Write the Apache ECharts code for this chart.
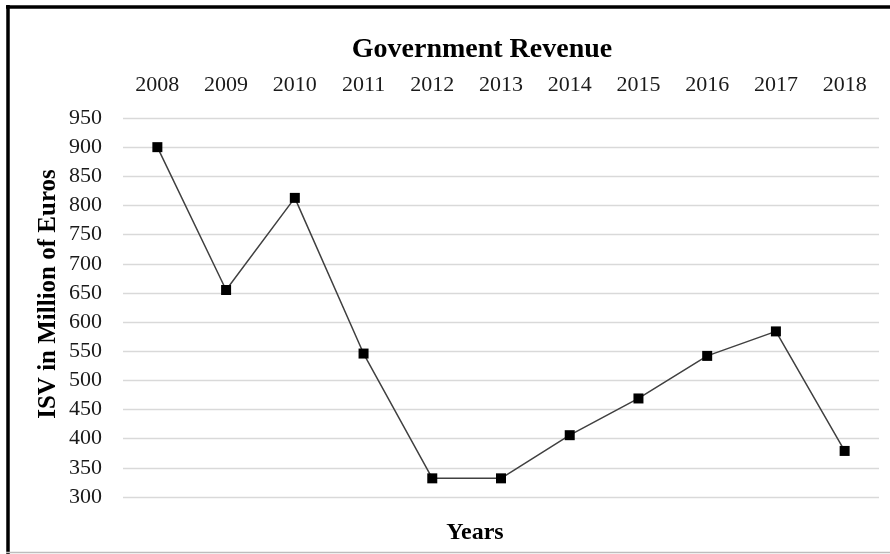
<!DOCTYPE html>
<html>
<head>
<meta charset="utf-8">
<script src="https://cdn.jsdelivr.net/npm/echarts@6/dist/echarts.min.js"></script>
<style>
  html, body { margin: 0; padding: 0; background: #fff; }
  #chart { width: 890px; height: 554px; }
</style>
</head>
<body>
<div id="chart"></div>
<script>
// Government revenue (ISV), million euros per year
const years = ['2008', '2009', '2010', '2011', '2012', '2013', '2014', '2015', '2016', '2017', '2018'];
const revenue = [900, 655, 813, 546, 332, 332, 406, 469, 542, 584, 379];
const yTicks = { min: 300, max: 950, step: 50 };

const serif = '"Liberation Serif", "Times New Roman", serif';
const chart = echarts.init(document.getElementById('chart'), null, { renderer: 'canvas' });

chart.setOption({
  backgroundColor: '#fff',
  animation: false,
  title: {
    text: 'Government Revenue',
    left: 477,
    top: 31,
    textAlign: 'center',
    textStyle: { fontFamily: serif, fontWeight: 'bold', fontSize: 28, color: '#000' }
  },
  grid: { left: 123, right: 11, top: 118, bottom: 57, containLabel: false },
  xAxis: {
    type: 'category',
    position: 'top',
    data: years,
    boundaryGap: true,
    axisLine: { show: false },
    axisTick: { show: false },
    axisLabel: { margin: 22, fontFamily: serif, fontSize: 22, color: '#1a1a1a' },
    splitLine: { show: false }
  },
  yAxis: {
    type: 'value',
    min: yTicks.min,
    max: yTicks.max,
    interval: yTicks.step,
    axisLine: { show: false },
    axisTick: { show: false },
    axisLabel: { margin: 21, fontFamily: serif, fontSize: 22, color: '#1a1a1a' },
    splitLine: { show: true, lineStyle: { color: '#d9d9d9', width: 1.4 } }
  },
  series: [{
    type: 'line',
    data: revenue,
    symbol: 'rect',
    symbolSize: 10,
    itemStyle: { color: '#000' },
    lineStyle: { color: '#404040', width: 1.5 }
  }],
  graphic: [
    {
      type: 'text',
      x: 36,
      y: 294,
      rotation: Math.PI / 2,
      style: {
        text: 'ISV in Million of Euros',
        font: 'bold 25px ' + serif,
        fill: '#000',
        align: 'center',
        verticalAlign: 'top'
      }
    },
    {
      type: 'text',
      x: 475,
      y: 533,
      style: {
        text: 'Years',
        font: 'bold 24px ' + serif,
        fill: '#000',
        align: 'center',
        verticalAlign: 'middle'
      }
    },
    { type: 'line', shape: { x1: 6, y1: 7, x2: 890, y2: 7 }, style: { stroke: '#000', lineWidth: 3.5 } },
    { type: 'line', shape: { x1: 8, y1: 5, x2: 8, y2: 554 }, style: { stroke: '#000', lineWidth: 3.5 } },
    { type: 'line', shape: { x1: 6, y1: 552.5, x2: 890, y2: 552.5 }, style: { stroke: '#bdbdbd', lineWidth: 1.5 } }
  ]
});
</script>
</body>
</html>
